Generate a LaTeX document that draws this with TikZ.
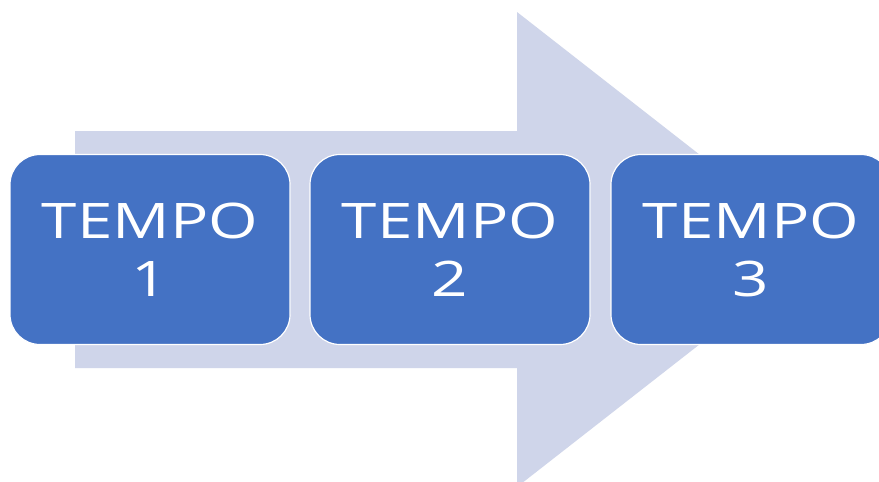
\documentclass[tikz,border=0pt]{standalone}
\usepackage{fontspec}
\setmainfont{Open Sans}[FakeStretch=1.3]
\definecolor{arrowfill}{HTML}{CFD5EA}
\definecolor{boxfill}{HTML}{4472C4}
\begin{document}
\begin{tikzpicture}[x=1pt,y=-1pt,
  tempobox/.style={draw=white, line width=1.2pt, fill=boxfill, rounded corners=30pt,
    minimum width=280pt, minimum height=190pt, inner sep=0pt, align=center,
    text=white, font=\fontsize{49}{58}\selectfont}]
\path[use as bounding box, clip] (0,0) rectangle (879,482);
\fill[white] (0,0) rectangle (879,482);
\fill[arrowfill] (75,131) -- (517,131) -- (517,12) -- (821,249.5) -- (517,487) -- (517,368) -- (75,368) -- cycle;
\node[tempobox] (t1) at (150,249.5) {TEMPO\\1};
\node[tempobox] (t2) at (450,249.5) {TEMPO\\2};
\node[tempobox] (t3) at (751,249.5) {TEMPO\\3};
\end{tikzpicture}
\end{document}
